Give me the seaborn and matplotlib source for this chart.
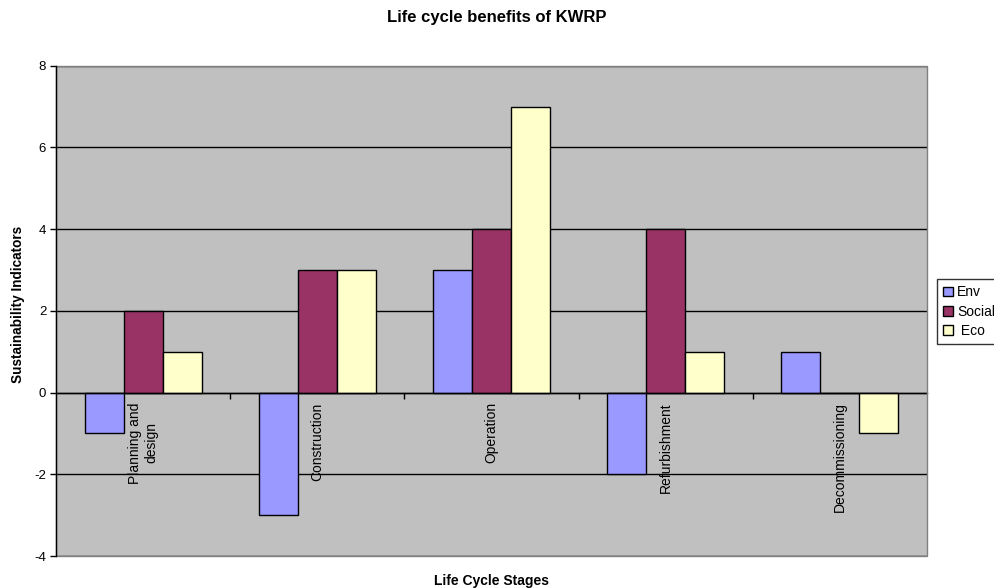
import matplotlib
matplotlib.use("Agg")
import matplotlib.pyplot as plt
from matplotlib.patches import Rectangle
from matplotlib.ticker import FixedLocator
import seaborn as sns
import pandas as pd

stages = ["Planning and\ndesign", "Construction", "Operation", "Refurbishment", "Decommissioning"]
env = [-1, -3, 3, -2, 1]
social = [2, 3, 4, 4, 0]
eco = [1, 3, 7, 1, -1]
series_names = ["Env", "Social", " Eco"]
series_colors = ["#9999FF", "#993366", "#FFFFCC"]
y_ticks = [-4, -2, 0, 2, 4, 6, 8]

df = pd.DataFrame({
    "stage": stages * 3,
    "indicator": [series_names[0]] * 5 + [series_names[1]] * 5 + [series_names[2]] * 5,
    "value": env + social + eco,
})

sns.set_theme(style="white")
plt.rcParams["font.family"] = ["Liberation Sans", "DejaVu Sans"]
plt.rcParams["text.color"] = "black"
plt.rcParams["axes.labelcolor"] = "black"
plt.rcParams["xtick.color"] = "black"
plt.rcParams["ytick.color"] = "black"

fig = plt.figure(figsize=(9.94, 5.88), dpi=100)
fig.patch.set_facecolor("white")
ax = fig.add_axes([0.0563, 0.0544, 0.8763, 0.8339])
ax.set_facecolor("#C0C0C0")

sns.barplot(data=df, x="stage", y="value", hue="indicator", hue_order=series_names,
            palette=series_colors, width=0.672, gap=0, saturation=1,
            edgecolor="black", linewidth=1, ax=ax, legend=False, errorbar=None)

ax.set_xlim(-0.5, len(stages) - 0.5)
ax.set_ylim(y_ticks[0], y_ticks[-1])
ax.set_yticks(y_ticks)
ax.set_yticklabels([str(v) for v in y_ticks], fontsize=9.5)

# horizontal gridlines
ax.set_axisbelow(True)
ax.yaxis.grid(True, color="black", linewidth=1)
ax.xaxis.grid(False)

# category axis sits on the zero line; ticks at category boundaries, labels at centres
for s in ["top", "right", "bottom"]:
    ax.spines[s].set_visible(False)
ax.spines["left"].set_color("black")
ax.spines["left"].set_linewidth(1)
ax.spines["bottom"].set_visible(True)
ax.spines["bottom"].set_position(("data", 0))
ax.spines["bottom"].set_color("black")
ax.spines["bottom"].set_linewidth(1)

ax.xaxis.set_major_locator(FixedLocator([i + 0.5 for i in range(len(stages) - 1)]))
ax.xaxis.set_minor_locator(FixedLocator(list(range(len(stages)))))
ax.set_xticklabels([], minor=False)
ax.set_xticklabels(stages, minor=True, rotation=90, fontsize=10,
                   ha="center", va="top", multialignment="center")
ax.tick_params(axis="x", which="major", direction="out", length=4, width=1, color="black", bottom=True)
ax.tick_params(axis="x", which="minor", length=0, pad=7, bottom=True)
ax.tick_params(axis="y", direction="out", length=4, width=1, color="black", left=True, pad=3)

# plot-area border
ax.add_patch(Rectangle((0, 0), 1, 1, transform=ax.transAxes, fill=False,
                       edgecolor="#808080", linewidth=1, zorder=5, clip_on=False))
ax.spines["left"].set_zorder(6)

ax.set_xlabel("Life Cycle Stages", fontsize=10, fontweight="bold")
ax.xaxis.set_label_coords(0.5, -0.037)
ax.set_ylabel("Sustainability Indicators", fontsize=9.8, fontweight="bold")
ax.yaxis.set_label_coords(-0.036, 0.513)

fig.text(0.5, 0.970, "Life cycle benefits of KWRP", ha="center", va="center",
         fontsize=12, fontweight="bold")

handles = [Rectangle((0, 0), 1, 1, facecolor=c, edgecolor="black", linewidth=1)
           for c in series_colors]
leg = fig.legend(handles, series_names, loc="upper left", bbox_to_anchor=(0.9426, 0.5255),
                 frameon=True, fancybox=False, fontsize=10, handlelength=0.7,
                 handleheight=0.7, handletextpad=0.3, borderpad=0.45, labelspacing=0.38,
                 borderaxespad=0)
leg.get_frame().set_edgecolor("black")
leg.get_frame().set_linewidth(1)

fig.savefig("out.png", dpi=100)
